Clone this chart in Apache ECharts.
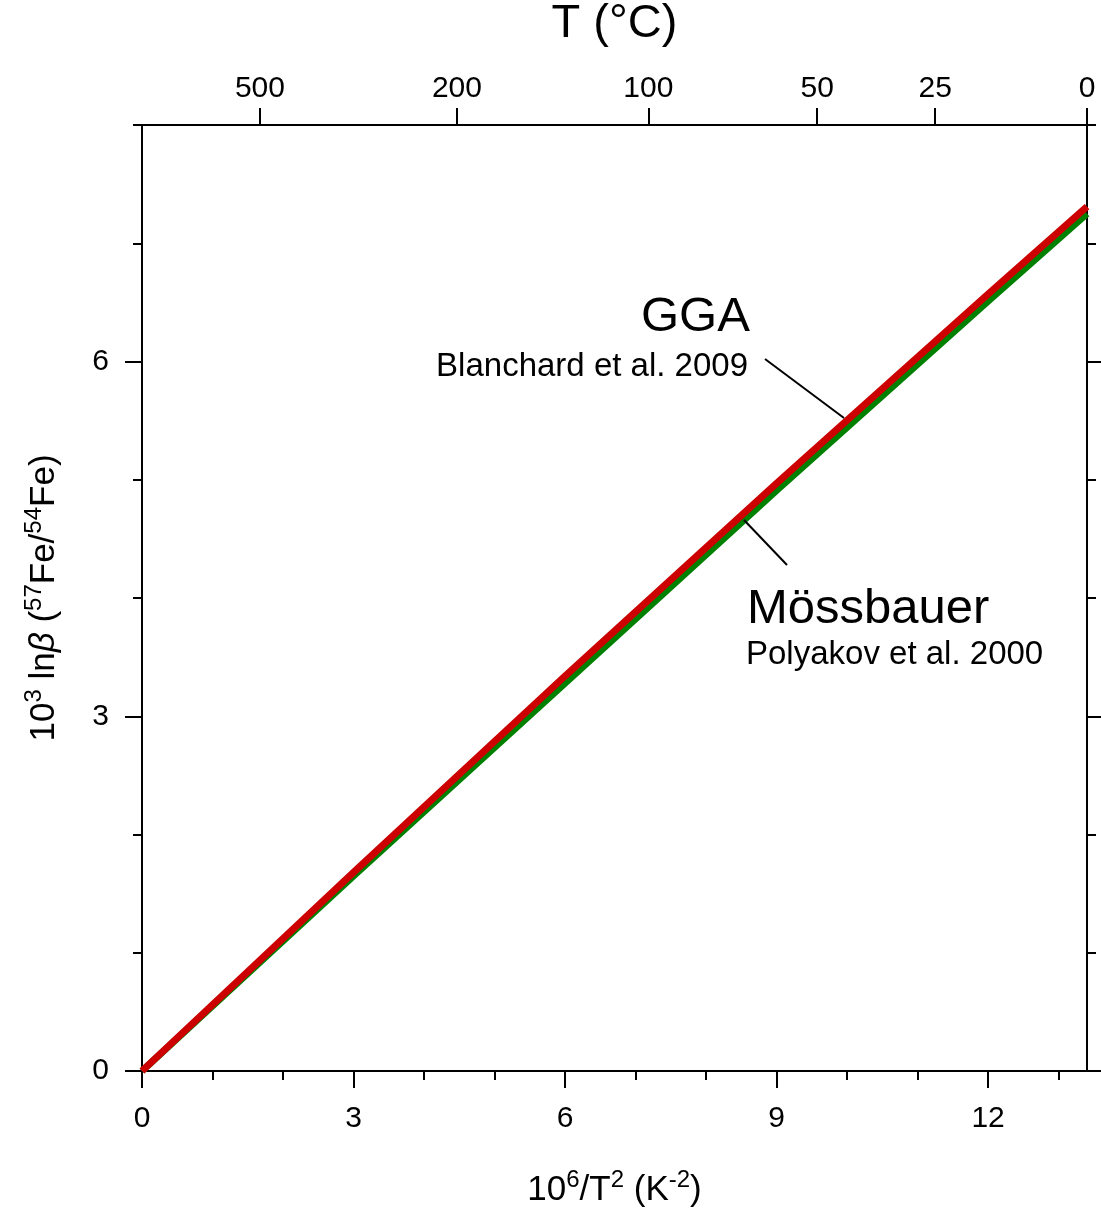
<!DOCTYPE html>
<html><head><meta charset="utf-8">
<script src="https://cdn.jsdelivr.net/npm/echarts@6/dist/echarts.min.js"></script>
<style>html,body{margin:0;padding:0;background:#fff}#c{width:1101px;height:1223px}</style>
</head><body><div id="c"></div>
<script>
// ---- data ----
const xMajorTicks = [0, 3, 6, 9, 12];
const xMinorTicks = [1, 2, 4, 5, 7, 8, 10, 11, 13];
const yMajorTicks = [0, 3, 6];
const yMinorTicks = [1, 2, 4, 5, 7, 8];
const topTempLabels = [500, 200, 100, 50, 25, 0];   // °C
const xValues    = [0, 3, 6, 9, 12, 13.403];
const ggaValues  = [0, 1.68, 3.34, 4.97, 6.57, 7.31];    // Blanchard et al. 2009 (GGA)
const mossValues = [0, 1.65, 3.28, 4.91, 6.51, 7.25];    // Polyakov et al. 2000 (Mössbauer)

const X_MAX = 1e6 / Math.pow(273.15, 2);
const Y_MAX = 8;
const FF = '"Liberation Sans", Arial, sans-serif';
const topTickValues = topTempLabels.map(t => 1e6 / Math.pow(t + 273.15, 2));

const black = '#000';
const lineSt = {color: black, width: 2};

function baseAxis(extra) {
  return Object.assign({
    type: 'value',
    splitLine: {show: false},
    axisLine: {show: false, onZero: false, lineStyle: lineSt},
    axisLabel: {show: false},
  }, extra);
}

const richName = {
  n:   {fontFamily: FF, fontSize: 35, color: black, lineHeight: 35, padding: [9, 0, 0, 0]},
  it:  {fontFamily: FF, fontSize: 35, color: black, lineHeight: 35, padding: [9, 0, 0, 0], fontStyle: 'italic'},
  sup: {fontFamily: FF, fontSize: 24, color: black, lineHeight: 24, verticalAlign: 'top'}
};

const chart = echarts.init(document.getElementById('c'));
chart.setOption({
  animation: false,
  backgroundColor: '#fff',
  grid: {left: 142, right: 14, top: 125, bottom: 152, containLabel: false, outerBoundsMode: 'none'},
  xAxis: [
    baseAxis({
      position: 'bottom', min: 0, max: X_MAX,
      axisLine: {show: true, onZero: false, lineStyle: lineSt},
      axisTick: {customValues: xMajorTicks, length: 17, lineStyle: lineSt},
      axisLabel: {show: true, customValues: xMajorTicks, margin: 33, fontSize: 30, fontFamily: FF, color: black},
      name: '{n|10}{sup|6}{n|/T}{sup|2}{n| (K}{sup|-2}{n|)}',
      nameLocation: 'middle', nameGap: 97,
      nameTextStyle: {fontFamily: FF, fontSize: 35, color: black, rich: richName}
    }),
    baseAxis({
      position: 'bottom', min: 0, max: X_MAX,
      axisTick: {customValues: xMinorTicks, length: 9, lineStyle: lineSt}
    }),
    baseAxis({
      position: 'top', min: 0, max: X_MAX,
      axisLine: {show: true, onZero: false, lineStyle: lineSt},
      axisTick: {customValues: topTickValues, length: 17, lineStyle: lineSt},
      axisLabel: {show: true, customValues: topTickValues, margin: 21, fontSize: 30, fontFamily: FF, color: black,
        formatter: v => String(Math.round(Math.sqrt(1e6 / v) - 273.15))},
      name: 'T (°C)', nameLocation: 'middle', nameGap: 77,
      nameTextStyle: {fontFamily: FF, fontSize: 47, color: black}
    })
  ],
  yAxis: [
    baseAxis({
      position: 'left', min: 0, max: Y_MAX,
      axisLine: {show: true, onZero: false, lineStyle: lineSt},
      axisTick: {customValues: yMajorTicks, length: 17, lineStyle: lineSt},
      axisLabel: {show: true, customValues: yMajorTicks, margin: 33, fontSize: 30, fontFamily: FF, color: black},
      name: '{n|10}{sup|3}{n| ln}{it|β}{n| (}{sup|57}{n|Fe/}{sup|54}{n|Fe)}',
      nameLocation: 'middle', nameGap: 85, nameRotate: 90,
      nameTextStyle: {fontFamily: FF, fontSize: 35, color: black, rich: richName}
    }),
    baseAxis({
      position: 'left', min: 0, max: Y_MAX,
      axisTick: {customValues: yMinorTicks, length: 9, lineStyle: lineSt}
    }),
    baseAxis({
      position: 'right', min: 0, max: Y_MAX,
      axisLine: {show: true, onZero: false, lineStyle: lineSt},
      axisTick: {customValues: yMajorTicks, length: 17, lineStyle: lineSt}
    }),
    baseAxis({
      position: 'right', min: 0, max: Y_MAX,
      axisTick: {customValues: yMinorTicks, length: 9, lineStyle: lineSt}
    })
  ],
  series: [
    {
      name: 'Mössbauer', type: 'line', xAxisIndex: 0, yAxisIndex: 0,
      data: xValues.map((x, i) => [x, mossValues[i]]),
      symbol: 'none', lineStyle: {color: '#008000', width: 7}, z: 2
    },
    {
      name: 'GGA', type: 'line', xAxisIndex: 0, yAxisIndex: 0,
      data: xValues.map((x, i) => [x, ggaValues[i]]),
      symbol: 'none', lineStyle: {color: '#cc0000', width: 7}, z: 3
    }
  ],
  graphic: [
    {type: 'text', z: 10, style: {text: 'GGA', x: 641, y: 317, fontSize: 49, fontFamily: FF, fill: black, align: 'left', verticalAlign: 'middle'}},
    {type: 'text', z: 10, style: {text: 'Blanchard et al. 2009', x: 748, y: 367, fontSize: 33, fontFamily: FF, fill: black, align: 'right', verticalAlign: 'middle'}},
    {type: 'line', z: 10, shape: {x1: 765, y1: 359, x2: 844, y2: 418}, style: {stroke: black, lineWidth: 2}},
    {type: 'text', z: 10, style: {text: 'Mössbauer', x: 747, y: 609, fontSize: 49, fontFamily: FF, fill: black, align: 'left', verticalAlign: 'middle'}},
    {type: 'text', z: 10, style: {text: 'Polyakov et al. 2000', x: 746, y: 655, fontSize: 33, fontFamily: FF, fill: black, align: 'left', verticalAlign: 'middle'}},
    {type: 'line', z: 10, shape: {x1: 744, y1: 520, x2: 787, y2: 565}, style: {stroke: black, lineWidth: 2}}
  ]
});
</script>
</body></html>
